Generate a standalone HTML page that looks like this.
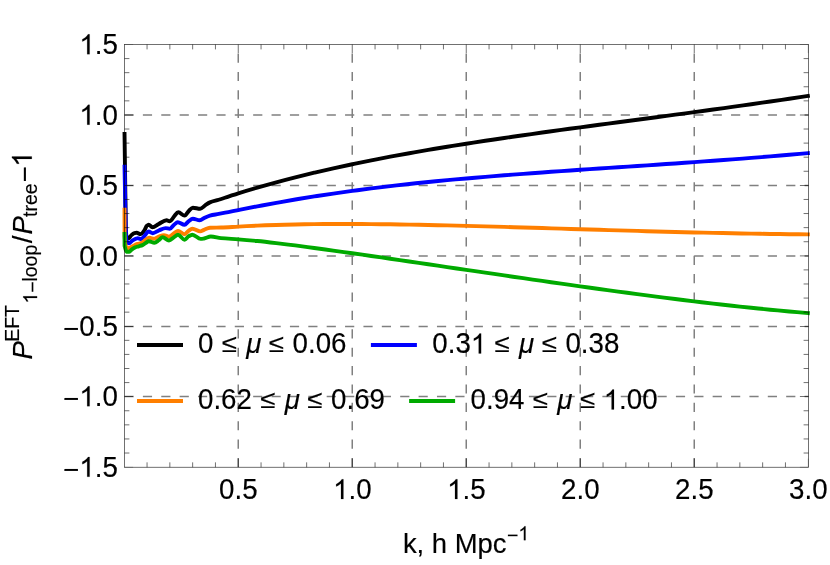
<!DOCTYPE html>
<html><head><meta charset="utf-8"><title>plot</title>
<style>html,body{margin:0;padding:0;background:#fff;}svg{display:block;will-change:transform;}text{font-family:"Liberation Sans",sans-serif;fill:#000;stroke:#000;stroke-width:0.15px;}#g1{stroke:#000;stroke-width:0.15px;vector-effect:non-scaling-stroke;}</style></head><body>
<svg width="830" height="565" viewBox="0 0 830 565">
<defs><path id="g1" d="M763 0H583V1147Q518 1085 412.5 1023T223 930V1104Q373 1175 485.5 1275T645 1469H763Z"/></defs>
<rect width="830" height="565" fill="#fff"/>
<g stroke="#808080" stroke-width="1.5" stroke-dasharray="9.19 9.19" fill="none">
<path d="M238.25,467.1 V44.5"/>
<path d="M352.25,467.1 V44.5"/>
<path d="M466.25,467.1 V44.5"/>
<path d="M580.25,467.1 V44.5"/>
<path d="M694.25,467.1 V44.5"/>
<path d="M124.5,115.00 H808.5"/>
<path d="M124.5,185.50 H808.5"/>
<path d="M124.5,255.90 H808.5"/>
<path d="M124.5,326.50 H808.5"/>
<path d="M124.5,396.50 H808.5"/>
</g>
<g fill="none" stroke-width="3.9" stroke-linejoin="round" stroke-linecap="butt">
<path stroke="#000000" d="M124.50,132.00 L125.80,228.00 C126.00,230.67 126.20,235.52 126.40,236.00 C127.13,237.76 127.87,238.40 128.60,238.40 C129.40,238.40 130.20,236.33 131.00,235.60 C132.13,234.56 133.27,233.37 134.40,233.10 C135.17,232.91 135.93,232.75 136.70,232.75 C137.97,232.75 139.23,234.10 140.50,234.10 C141.80,234.10 143.10,232.08 144.40,230.40 C145.23,229.32 146.07,226.48 146.90,225.70 C147.47,225.17 148.03,224.60 148.60,224.60 C149.87,224.60 151.13,227.30 152.40,227.30 C154.53,227.30 156.67,224.96 158.80,223.90 C161.40,222.61 164.00,220.30 166.60,220.30 C167.57,220.30 168.53,221.20 169.50,221.20 C170.33,221.20 171.17,220.20 172.00,219.40 C172.80,218.63 173.60,216.94 174.40,216.00 C175.70,214.48 177.00,212.20 178.30,212.20 C180.40,212.20 182.50,215.60 184.60,215.60 C186.07,215.60 187.53,212.03 189.00,210.70 C190.30,209.52 191.60,207.70 192.90,207.70 C195.33,207.70 197.77,208.80 200.20,208.80 C201.83,208.80 203.47,206.48 205.10,205.40 C206.70,204.34 208.30,203.02 209.90,202.35 C212.83,201.12 215.77,200.66 218.70,199.75 C221.93,198.74 225.17,197.61 228.40,196.55 C231.70,195.47 235.00,194.34 238.30,193.31 C244.63,191.32 250.97,189.45 257.30,187.62 C263.63,185.79 269.97,184.03 276.30,182.32 C282.63,180.60 288.97,178.95 295.30,177.35 C301.63,175.75 307.97,174.20 314.30,172.70 C320.63,171.20 326.97,169.74 333.30,168.33 C339.63,166.92 345.97,165.56 352.30,164.23 C358.63,162.90 364.97,161.61 371.30,160.35 C377.63,159.10 383.97,157.88 390.30,156.69 C396.63,155.50 402.97,154.34 409.30,153.21 C415.63,152.08 421.97,150.98 428.30,149.90 C434.63,148.82 440.97,147.77 447.30,146.74 C453.63,145.70 459.97,144.69 466.30,143.70 C472.63,142.71 478.97,141.74 485.30,140.78 C491.63,139.82 497.97,138.88 504.30,137.95 C510.63,137.03 516.97,136.11 523.30,135.21 C529.63,134.31 535.97,133.42 542.30,132.54 C548.63,131.65 554.97,130.78 561.30,129.92 C567.63,129.05 573.97,128.19 580.30,127.34 C586.63,126.48 592.97,125.63 599.30,124.79 C605.63,123.94 611.97,123.10 618.30,122.26 C624.63,121.42 630.97,120.58 637.30,119.74 C643.63,118.89 649.97,118.06 656.30,117.21 C662.63,116.37 668.97,115.53 675.30,114.68 C681.63,113.83 687.97,112.98 694.30,112.12 C700.63,111.26 706.97,110.40 713.30,109.53 C719.63,108.67 725.97,107.79 732.30,106.91 C738.63,106.03 744.97,105.14 751.30,104.24 C757.63,103.34 763.97,102.43 770.30,101.51 C776.63,100.60 782.97,99.67 789.30,98.73 C795.63,97.79 801.97,96.83 808.30,95.87 C808.80,95.80 809.30,95.72 809.80,95.64"/>
<path stroke="#0000ff" d="M124.50,164.80 L125.80,232.00 C126.03,234.83 126.27,239.93 126.50,240.50 C127.30,242.44 128.10,243.20 128.90,243.20 C130.17,243.20 131.43,241.06 132.70,240.30 C133.83,239.62 134.97,238.95 136.10,238.60 C136.67,238.43 137.23,238.20 137.80,238.20 C138.93,238.20 140.07,239.00 141.20,239.00 C142.33,239.00 143.47,236.94 144.60,235.80 C145.93,234.46 147.27,231.50 148.60,231.50 C150.00,231.50 151.40,233.20 152.80,233.20 C154.80,233.20 156.80,231.29 158.80,230.50 C161.07,229.60 163.33,228.10 165.60,228.10 C167.00,228.10 168.40,228.80 169.80,228.80 C171.23,228.80 172.67,225.83 174.10,224.70 C175.33,223.73 176.57,222.20 177.80,222.20 C180.03,222.20 182.27,224.80 184.50,224.80 C185.83,224.80 187.17,222.35 188.50,221.40 C189.97,220.35 191.43,218.70 192.90,218.70 C195.17,218.70 197.43,220.30 199.70,220.30 C201.50,220.30 203.30,218.32 205.10,217.50 C206.70,216.77 208.30,215.97 209.90,215.55 C212.83,214.78 215.77,214.50 218.70,213.95 C221.93,213.34 225.17,212.70 228.40,212.05 C231.70,211.39 235.00,210.69 238.30,210.04 C244.63,208.77 250.97,207.54 257.30,206.34 C263.63,205.14 269.97,203.96 276.30,202.83 C282.63,201.69 288.97,200.59 295.30,199.52 C301.63,198.46 307.97,197.43 314.30,196.44 C320.63,195.44 326.97,194.49 333.30,193.56 C339.63,192.64 345.97,191.75 352.30,190.90 C358.63,190.04 364.97,189.22 371.30,188.42 C377.63,187.63 383.97,186.86 390.30,186.13 C396.63,185.39 402.97,184.68 409.30,184.00 C415.63,183.31 421.97,182.65 428.30,182.02 C434.63,181.38 440.97,180.77 447.30,180.17 C453.63,179.58 459.97,179.00 466.30,178.44 C472.63,177.89 478.97,177.35 485.30,176.82 C491.63,176.30 497.97,175.79 504.30,175.29 C510.63,174.79 516.97,174.31 523.30,173.84 C529.63,173.36 535.97,172.90 542.30,172.45 C548.63,171.99 554.97,171.54 561.30,171.10 C567.63,170.66 573.97,170.23 580.30,169.80 C586.63,169.37 592.97,168.95 599.30,168.52 C605.63,168.10 611.97,167.68 618.30,167.26 C624.63,166.84 630.97,166.42 637.30,165.99 C643.63,165.57 649.97,165.15 656.30,164.72 C662.63,164.30 668.97,163.87 675.30,163.44 C681.63,163.00 687.97,162.56 694.30,162.12 C700.63,161.67 706.97,161.22 713.30,160.76 C719.63,160.30 725.97,159.84 732.30,159.36 C738.63,158.88 744.97,158.40 751.30,157.90 C757.63,157.40 763.97,156.89 770.30,156.37 C776.63,155.85 782.97,155.32 789.30,154.78 C795.63,154.23 801.97,153.66 808.30,153.09 C808.80,153.05 809.30,153.00 809.80,152.96"/>
<path stroke="#ff7f00" d="M124.50,207.80 L124.60,236.00 C124.87,239.00 125.13,244.31 125.40,245.00 C126.27,247.24 127.13,248.20 128.00,248.20 C129.57,248.20 131.13,246.94 132.70,246.20 C134.03,245.57 135.37,244.54 136.70,244.10 C138.40,243.54 140.10,243.54 141.80,242.90 C142.93,242.47 144.07,240.98 145.20,240.20 C146.60,239.24 148.00,237.70 149.40,237.70 C150.83,237.70 152.27,238.80 153.70,238.80 C155.40,238.80 157.10,237.19 158.80,236.60 C160.50,236.01 162.20,235.10 163.90,235.10 C165.60,235.10 167.30,236.60 169.00,236.60 C170.70,236.60 172.40,234.26 174.10,233.20 C175.40,232.39 176.70,230.90 178.00,230.90 C180.17,230.90 182.33,234.20 184.50,234.20 C185.83,234.20 187.17,231.79 188.50,230.90 C189.80,230.03 191.10,228.70 192.40,228.70 C195.00,228.70 197.60,231.40 200.20,231.40 C201.47,231.40 202.73,230.33 204.00,229.85 C206.00,229.09 208.00,227.84 210.00,227.75 C213.67,227.58 217.33,227.61 221.00,227.50 C226.73,227.32 232.47,226.90 238.20,226.61 C244.53,226.28 250.87,225.92 257.20,225.65 C263.53,225.38 269.87,225.14 276.20,224.95 C282.53,224.75 288.87,224.58 295.20,224.46 C301.53,224.34 307.87,224.22 314.20,224.16 C320.53,224.09 326.87,224.02 333.20,224.02 C339.53,224.01 345.87,224.01 352.20,224.01 C358.53,224.01 364.87,224.07 371.20,224.12 C377.53,224.16 383.87,224.24 390.20,224.32 C396.53,224.40 402.87,224.51 409.20,224.62 C415.53,224.72 421.87,224.85 428.20,224.98 C434.53,225.11 440.87,225.25 447.20,225.40 C453.53,225.55 459.87,225.71 466.20,225.87 C472.53,226.03 478.87,226.20 485.20,226.38 C491.53,226.55 497.87,226.73 504.20,226.92 C510.53,227.10 516.87,227.29 523.20,227.48 C529.53,227.67 535.87,227.86 542.20,228.05 C548.53,228.25 554.87,228.44 561.20,228.64 C567.53,228.83 573.87,229.03 580.20,229.22 C586.53,229.41 592.87,229.61 599.20,229.80 C605.53,229.99 611.87,230.18 618.20,230.37 C624.53,230.55 630.87,230.74 637.20,230.92 C643.53,231.10 649.87,231.28 656.20,231.45 C662.53,231.62 668.87,231.79 675.20,231.95 C681.53,232.11 687.87,232.27 694.20,232.43 C700.53,232.58 706.87,232.73 713.20,232.86 C719.53,233.00 725.87,233.14 732.20,233.27 C738.53,233.39 744.87,233.51 751.20,233.62 C757.53,233.74 763.87,233.84 770.20,233.94 C776.53,234.03 782.87,234.12 789.20,234.20 C795.53,234.28 801.87,234.35 808.20,234.41 C808.73,234.41 809.27,234.42 809.80,234.42"/>
<path stroke="#00aa00" d="M124.50,232.00 L124.60,246.00 C125.23,247.90 125.87,251.65 126.50,251.70 C127.43,251.77 128.37,251.80 129.30,251.80 C130.07,251.80 130.83,250.18 131.60,249.60 C132.80,248.69 134.00,247.89 135.20,247.40 C136.40,246.91 137.60,246.68 138.80,246.30 C140.03,245.91 141.27,245.64 142.50,245.10 C143.70,244.58 144.90,243.41 146.10,242.70 C147.00,242.17 147.90,241.25 148.80,241.25 C150.67,241.25 152.53,242.80 154.40,242.80 C155.87,242.80 157.33,241.18 158.80,240.20 C160.07,239.35 161.33,237.30 162.60,237.30 C164.73,237.30 166.87,240.50 169.00,240.50 C170.70,240.50 172.40,238.16 174.10,237.10 C175.40,236.29 176.70,234.80 178.00,234.80 C180.20,234.80 182.40,239.80 184.60,239.80 C185.90,239.80 187.20,237.16 188.50,236.40 C189.80,235.64 191.10,234.70 192.40,234.70 C195.13,234.70 197.87,238.90 200.60,238.90 C201.73,238.90 202.87,238.71 204.00,238.55 C206.27,238.22 208.53,236.50 210.80,236.50 C214.20,236.50 217.60,237.81 221.00,238.15 C226.73,238.73 232.47,238.90 238.20,239.34 C244.53,239.83 250.87,240.40 257.20,241.02 C263.53,241.64 269.87,242.37 276.20,243.10 C282.53,243.84 288.87,244.64 295.20,245.44 C301.53,246.25 307.87,247.09 314.20,247.95 C320.53,248.80 326.87,249.68 333.20,250.56 C339.53,251.44 345.87,252.34 352.20,253.24 C358.53,254.14 364.87,255.05 371.20,255.96 C377.53,256.87 383.87,257.79 390.20,258.71 C396.53,259.64 402.87,260.56 409.20,261.49 C415.53,262.42 421.87,263.34 428.20,264.27 C434.53,265.20 440.87,266.13 447.20,267.06 C453.53,267.99 459.87,268.93 466.20,269.86 C472.53,270.79 478.87,271.72 485.20,272.64 C491.53,273.57 497.87,274.50 504.20,275.42 C510.53,276.35 516.87,277.27 523.20,278.19 C529.53,279.10 535.87,280.02 542.20,280.93 C548.53,281.84 554.87,282.75 561.20,283.65 C567.53,284.55 573.87,285.45 580.20,286.34 C586.53,287.23 592.87,288.12 599.20,288.99 C605.53,289.87 611.87,290.74 618.20,291.60 C624.53,292.45 630.87,293.31 637.20,294.15 C643.53,294.99 649.87,295.82 656.20,296.63 C662.53,297.45 668.87,298.26 675.20,299.05 C681.53,299.84 687.87,300.62 694.20,301.38 C700.53,302.15 706.87,302.90 713.20,303.63 C719.53,304.36 725.87,305.07 732.20,305.77 C738.53,306.46 744.87,307.14 751.20,307.79 C757.53,308.45 763.87,309.08 770.20,309.69 C776.53,310.30 782.87,310.90 789.20,311.46 C795.53,312.02 801.87,312.55 808.20,313.07 C808.73,313.12 809.27,313.16 809.80,313.20"/>
</g>
<g stroke="#000000" stroke-opacity="0.75" stroke-width="0.75" fill="none">
<rect x="124.5" y="44.5" width="684" height="422.75"/>
<path d="M147.05,467.25 v-4.9 M147.05,44.5 v4.9 M169.85,467.25 v-4.9 M169.85,44.5 v4.9 M192.65,467.25 v-4.9 M192.65,44.5 v4.9 M215.45,467.25 v-4.9 M215.45,44.5 v4.9 M238.25,467.25 v-8.6 M238.25,44.5 v8.6 M261.05,467.25 v-4.9 M261.05,44.5 v4.9 M283.85,467.25 v-4.9 M283.85,44.5 v4.9 M306.65,467.25 v-4.9 M306.65,44.5 v4.9 M329.45,467.25 v-4.9 M329.45,44.5 v4.9 M352.25,467.25 v-8.6 M352.25,44.5 v8.6 M375.05,467.25 v-4.9 M375.05,44.5 v4.9 M397.85,467.25 v-4.9 M397.85,44.5 v4.9 M420.65,467.25 v-4.9 M420.65,44.5 v4.9 M443.45,467.25 v-4.9 M443.45,44.5 v4.9 M466.25,467.25 v-8.6 M466.25,44.5 v8.6 M489.05,467.25 v-4.9 M489.05,44.5 v4.9 M511.85,467.25 v-4.9 M511.85,44.5 v4.9 M534.65,467.25 v-4.9 M534.65,44.5 v4.9 M557.45,467.25 v-4.9 M557.45,44.5 v4.9 M580.25,467.25 v-8.6 M580.25,44.5 v8.6 M603.05,467.25 v-4.9 M603.05,44.5 v4.9 M625.85,467.25 v-4.9 M625.85,44.5 v4.9 M648.65,467.25 v-4.9 M648.65,44.5 v4.9 M671.45,467.25 v-4.9 M671.45,44.5 v4.9 M694.25,467.25 v-8.6 M694.25,44.5 v8.6 M717.05,467.25 v-4.9 M717.05,44.5 v4.9 M739.85,467.25 v-4.9 M739.85,44.5 v4.9 M762.65,467.25 v-4.9 M762.65,44.5 v4.9 M785.45,467.25 v-4.9 M785.45,44.5 v4.9 M124.5,453.02 h4.9 M808.5,453.02 h-4.9 M124.5,438.94 h4.9 M808.5,438.94 h-4.9 M124.5,424.85 h4.9 M808.5,424.85 h-4.9 M124.5,410.76 h4.9 M808.5,410.76 h-4.9 M124.5,396.50 h8.6 M808.5,396.50 h-8.6 M124.5,382.59 h4.9 M808.5,382.59 h-4.9 M124.5,368.50 h4.9 M808.5,368.50 h-4.9 M124.5,354.41 h4.9 M808.5,354.41 h-4.9 M124.5,340.33 h4.9 M808.5,340.33 h-4.9 M124.5,326.50 h8.6 M808.5,326.50 h-8.6 M124.5,312.15 h4.9 M808.5,312.15 h-4.9 M124.5,298.07 h4.9 M808.5,298.07 h-4.9 M124.5,283.98 h4.9 M808.5,283.98 h-4.9 M124.5,269.89 h4.9 M808.5,269.89 h-4.9 M124.5,255.90 h8.6 M808.5,255.90 h-8.6 M124.5,241.72 h4.9 M808.5,241.72 h-4.9 M124.5,227.63 h4.9 M808.5,227.63 h-4.9 M124.5,213.54 h4.9 M808.5,213.54 h-4.9 M124.5,199.46 h4.9 M808.5,199.46 h-4.9 M124.5,185.50 h8.6 M808.5,185.50 h-8.6 M124.5,171.28 h4.9 M808.5,171.28 h-4.9 M124.5,157.20 h4.9 M808.5,157.20 h-4.9 M124.5,143.11 h4.9 M808.5,143.11 h-4.9 M124.5,129.02 h4.9 M808.5,129.02 h-4.9 M124.5,115.00 h8.6 M808.5,115.00 h-8.6 M124.5,100.85 h4.9 M808.5,100.85 h-4.9 M124.5,86.76 h4.9 M808.5,86.76 h-4.9 M124.5,72.67 h4.9 M808.5,72.67 h-4.9 M124.5,58.59 h4.9 M808.5,58.59 h-4.9"/>
<path stroke-opacity="0.3" d="M808.25,467.25 v-8.6 M808.25,44.5 v8.6 M124.5,467.25 h8.6 M808.5,467.25 h-8.6 M124.5,44.50 h8.6 M808.5,44.50 h-8.6"/>
</g>
<g transform="translate(117.80,54.20)"><use href="#g1" transform="translate(-38.51,0) scale(0.01353,-0.01353)"/><text x="-23.10" y="0" font-size="27.7">.</text><text x="-15.41" y="0" font-size="27.7" transform="scale(1,1.045)">5</text></g>
<g transform="translate(117.80,124.70)"><use href="#g1" transform="translate(-38.51,0) scale(0.01353,-0.01353)"/><text x="-23.10" y="0" font-size="27.7">.</text><text x="-15.41" y="0" font-size="27.7" transform="scale(1,1.045)">0</text></g>
<g transform="translate(117.80,195.20)"><text x="-38.51" y="0" font-size="27.7" transform="scale(1,1.045)">0.5</text></g>
<g transform="translate(117.80,265.60)"><text x="-38.51" y="0" font-size="27.7" transform="scale(1,1.045)">0.0</text></g>
<g transform="translate(117.80,336.20)"><text x="-38.51" y="0" font-size="27.7" transform="scale(1,1.045)">0.5</text></g>
<g transform="translate(79.29,338.20)"><text x="-16.18" y="0" font-size="27.7">−</text></g>
<g transform="translate(117.80,406.20)"><use href="#g1" transform="translate(-38.51,0) scale(0.01353,-0.01353)"/><text x="-23.10" y="0" font-size="27.7">.</text><text x="-15.41" y="0" font-size="27.7" transform="scale(1,1.045)">0</text></g>
<g transform="translate(79.29,408.20)"><text x="-16.18" y="0" font-size="27.7">−</text></g>
<g transform="translate(117.80,476.81)"><use href="#g1" transform="translate(-38.51,0) scale(0.01353,-0.01353)"/><text x="-23.10" y="0" font-size="27.7">.</text><text x="-15.41" y="0" font-size="27.7" transform="scale(1,1.045)">5</text></g>
<g transform="translate(79.29,478.81)"><text x="-16.18" y="0" font-size="27.7">−</text></g>
<g transform="translate(238.35,499.10)"><text x="-19.25" y="0" font-size="27.7" transform="scale(1,1.045)">0.5</text></g>
<g transform="translate(352.35,499.10)"><use href="#g1" transform="translate(-19.25,0) scale(0.01353,-0.01353)"/><text x="-3.85" y="0" font-size="27.7">.</text><text x="3.85" y="0" font-size="27.7" transform="scale(1,1.045)">0</text></g>
<g transform="translate(466.35,499.10)"><use href="#g1" transform="translate(-19.25,0) scale(0.01353,-0.01353)"/><text x="-3.85" y="0" font-size="27.7">.</text><text x="3.85" y="0" font-size="27.7" transform="scale(1,1.045)">5</text></g>
<g transform="translate(580.35,499.10)"><text x="-19.25" y="0" font-size="27.7" transform="scale(1,1.045)">2.0</text></g>
<g transform="translate(694.35,499.10)"><text x="-19.25" y="0" font-size="27.7" transform="scale(1,1.045)">2.5</text></g>
<g transform="translate(808.35,499.10)"><text x="-19.25" y="0" font-size="27.7" transform="scale(1,1.045)">3.0</text></g>
<g transform="translate(402.90,553.20)"><text x="0.00" y="0" font-size="27.45">k, h Mpc</text></g>
<g transform="translate(507.00,542.40)"><text x="0.00" y="0" font-size="19.5">−</text></g>
<g transform="translate(518.30,540.20)"><use href="#g1" transform="translate(0.00,0) scale(0.00952,-0.00952)"/></g>
<g transform="translate(31.80,359.50) rotate(-90)"><text x="0.00" y="0" font-size="27.7" font-style="italic">P</text></g>
<g transform="translate(19.10,341.80) rotate(-90)"><text x="0.00" y="0" font-size="19.5">EFT</text></g>
<g transform="translate(37.10,303.60) rotate(-90)"><use href="#g1" transform="translate(0.00,0) scale(0.00952,-0.00952)"/></g>
<g transform="translate(38.90,292.70) rotate(-90)"><text x="0.00" y="0" font-size="19.5">−</text></g>
<g transform="translate(37.10,281.60) rotate(-90)"><text x="0.00" y="0" font-size="19.5">loop</text></g>
<g transform="translate(31.80,243.30) rotate(-90)"><text x="0.00" y="0" font-size="27.7">/</text></g>
<g transform="translate(31.80,234.50) rotate(-90)"><text x="0.00" y="0" font-size="27.7" font-style="italic">P</text></g>
<g transform="translate(37.10,216.90) rotate(-90)"><text x="0.00" y="0" font-size="19.5">tree</text></g>
<g transform="translate(33.80,182.40) rotate(-90)"><text x="0.00" y="0" font-size="27.7">−</text></g>
<g transform="translate(31.80,166.80) rotate(-90)"><use href="#g1" transform="translate(0.00,0) scale(0.01353,-0.01353)"/></g>
<path d="M137.0,345.0 h46" stroke="#000000" stroke-width="4" fill="none"/>
<g transform="translate(198.00,353.40)"><text x="0.00" y="0" font-size="27.7" transform="scale(1,1.045)">0</text></g>
<g transform="translate(221.76,351.60)"><text x="0.00" y="0" font-size="27.7" transform="scale(1,0.915)">≤</text></g>
<g transform="translate(246.26,353.40)"><text x="0.00" y="0" font-size="27.7" font-style="italic">μ</text></g>
<g transform="translate(268.83,351.60)"><text x="0.00" y="0" font-size="27.7" transform="scale(1,0.915)">≤</text></g>
<g transform="translate(292.59,353.40)"><text x="0.00" y="0" font-size="27.7" transform="scale(1,1.045)">0.06</text></g>
<path d="M370.9,345.0 h46" stroke="#0000ff" stroke-width="4" fill="none"/>
<g transform="translate(432.30,353.40)"><text x="0.00" y="0" font-size="27.7" transform="scale(1,1.045)">0.3</text><use href="#g1" transform="translate(38.51,0) scale(0.01353,-0.01353)"/></g>
<g transform="translate(494.56,351.60)"><text x="0.00" y="0" font-size="27.7" transform="scale(1,0.915)">≤</text></g>
<g transform="translate(519.06,353.40)"><text x="0.00" y="0" font-size="27.7" font-style="italic">μ</text></g>
<g transform="translate(541.64,351.60)"><text x="0.00" y="0" font-size="27.7" transform="scale(1,0.915)">≤</text></g>
<g transform="translate(565.39,353.40)"><text x="0.00" y="0" font-size="27.7" transform="scale(1,1.045)">0.38</text></g>
<path d="M137.0,401.0 h46" stroke="#ff7f00" stroke-width="4" fill="none"/>
<g transform="translate(198.00,409.40)"><text x="0.00" y="0" font-size="27.7" transform="scale(1,1.045)">0.62</text></g>
<g transform="translate(260.26,407.60)"><text x="0.00" y="0" font-size="27.7" transform="scale(1,0.915)">≤</text></g>
<g transform="translate(284.76,409.40)"><text x="0.00" y="0" font-size="27.7" font-style="italic">μ</text></g>
<g transform="translate(307.34,407.60)"><text x="0.00" y="0" font-size="27.7" transform="scale(1,0.915)">≤</text></g>
<g transform="translate(331.09,409.40)"><text x="0.00" y="0" font-size="27.7" transform="scale(1,1.045)">0.69</text></g>
<path d="M409.1,401.0 h46" stroke="#00aa00" stroke-width="4" fill="none"/>
<g transform="translate(470.60,409.40)"><text x="0.00" y="0" font-size="27.7" transform="scale(1,1.045)">0.94</text></g>
<g transform="translate(532.86,407.60)"><text x="0.00" y="0" font-size="27.7" transform="scale(1,0.915)">≤</text></g>
<g transform="translate(557.36,409.40)"><text x="0.00" y="0" font-size="27.7" font-style="italic">μ</text></g>
<g transform="translate(579.94,407.60)"><text x="0.00" y="0" font-size="27.7" transform="scale(1,0.915)">≤</text></g>
<g transform="translate(603.69,409.40)"><use href="#g1" transform="translate(0.00,0) scale(0.01353,-0.01353)"/><text x="15.41" y="0" font-size="27.7">.</text><text x="23.10" y="0" font-size="27.7" transform="scale(1,1.045)">00</text></g>
</svg></body></html>
